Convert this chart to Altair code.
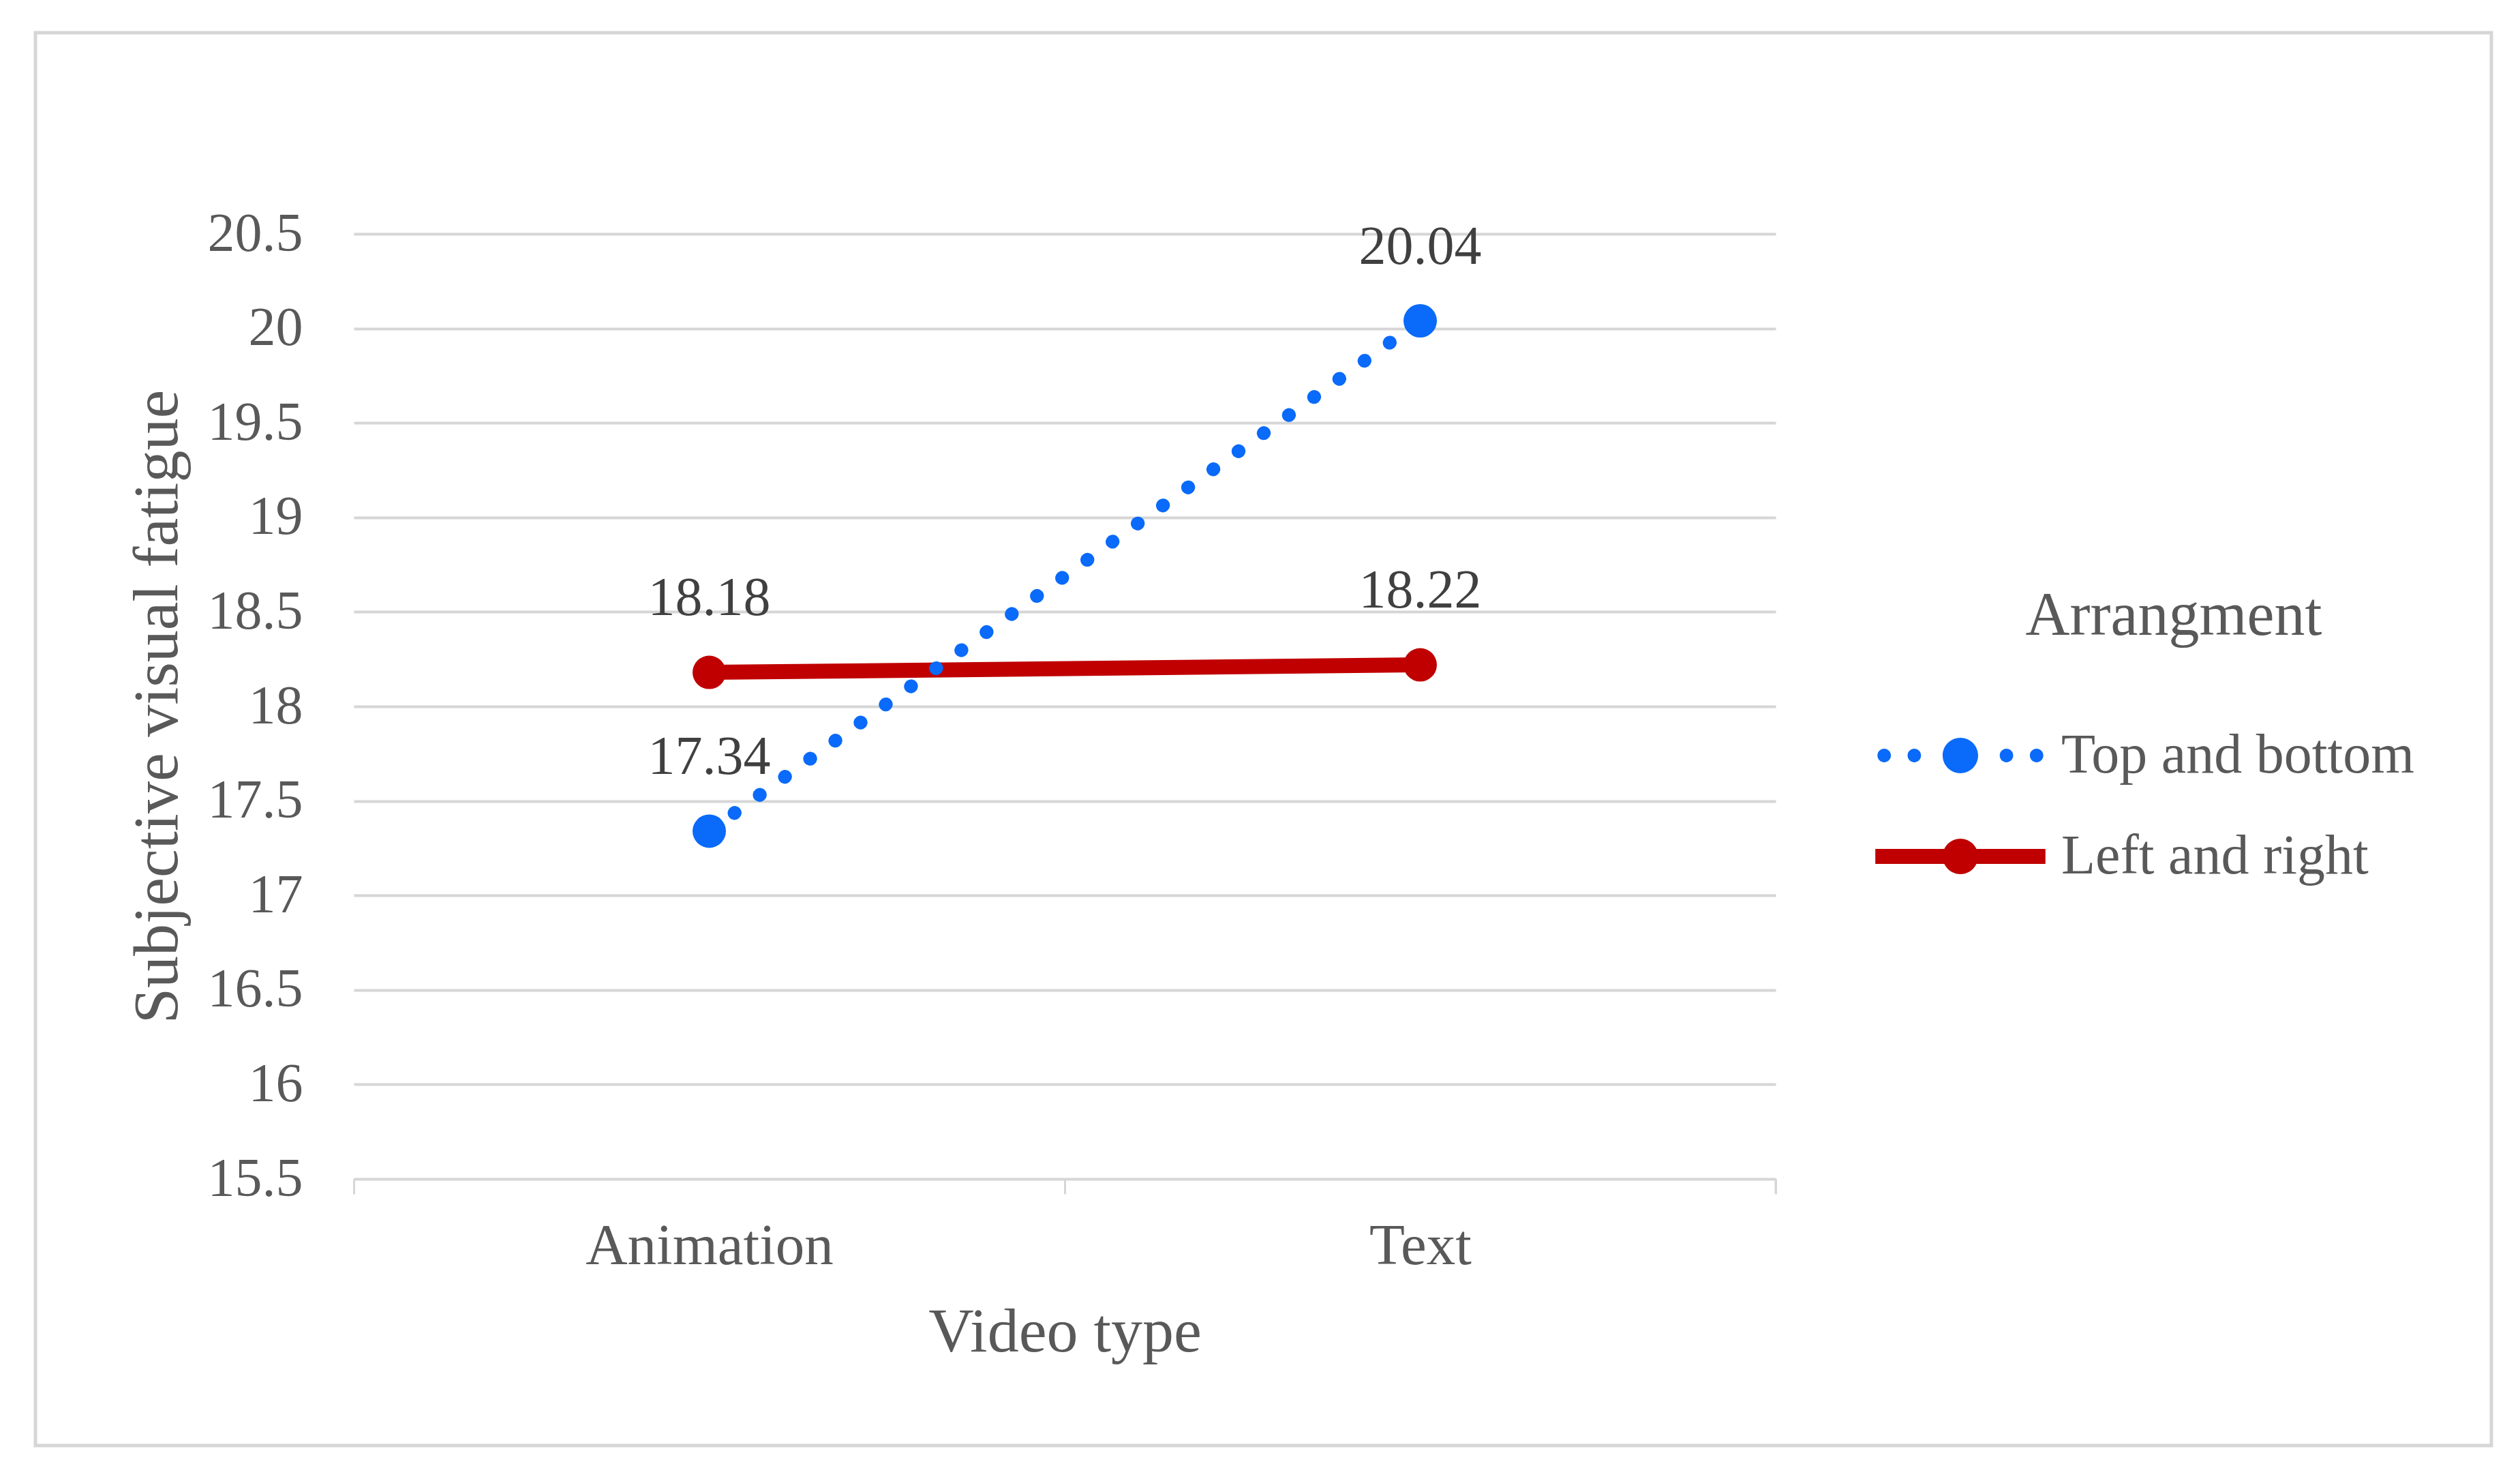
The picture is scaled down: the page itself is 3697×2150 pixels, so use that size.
import altair as alt
import pandas as pd

video_types = ["Animation", "Text"]
series_names = ["Top and bottom", "Left and right"]
top_bottom = [17.34, 20.04]
left_right = [18.18, 18.22]
y_ticks = [15.5, 16, 16.5, 17, 17.5, 18, 18.5, 19, 19.5, 20, 20.5]

rows = []
for s, vals in zip(series_names, [top_bottom, left_right]):
    for v, val in zip(video_types, vals):
        rows.append({"Video type": v, "Arrangment": s, "value": val})
df = pd.DataFrame(rows)

BLUE = "#0A6AFA"
RED = "#C00000"
FONT = "Liberation Serif"
GREY = "#595959"
GRID = "#D6D6D6"
W, H = 2086, 1386


def circ(cx, r):
    return f"M{cx - r},0A{r},{r} 0 1,1 {cx + r},0A{r},{r} 0 1,1 {cx - r},0Z"


red_shape = "M-4.8,-0.42H4.8V0.42H-4.8Z" + circ(0, 1)
blue_shape = circ(-4.3, 0.38) + circ(-2.6, 0.38) + circ(0, 1) + circ(2.6, 0.38) + circ(4.3, 0.38)

x_enc = alt.X(
    "Video type:N",
    sort=video_types,
    scale=alt.Scale(paddingInner=0, paddingOuter=0),
    axis=alt.Axis(
        title="Video type",
        tickBand="extent",
        labelAngle=0,
        labelLimit=0,
        grid=False,
        domainColor=GRID,
        domainWidth=3,
        tickColor=GRID,
        tickWidth=3,
        tickSize=22,
        labelFont=FONT,
        labelFontSize=85,
        labelColor=GREY,
        labelPadding=35,
        titleFont=FONT,
        titleFontSize=92,
        titleFontWeight="normal",
        titleColor=GREY,
        titlePadding=38,
    ),
)

y_enc = alt.Y(
    "value:Q",
    scale=alt.Scale(domain=[15.5, 20.5], nice=False, zero=False),
    axis=alt.Axis(
        title="Subjective visual fatigue",
        values=y_ticks,
        format=".1~f",
        domain=False,
        ticks=False,
        gridColor=GRID,
        gridWidth=4,
        labelFont=FONT,
        labelFontSize=80,
        labelColor=GREY,
        labelPadding=75,
        titleFont=FONT,
        titleFontSize=94,
        titleFontWeight="normal",
        titleColor=GREY,
        titlePadding=40,
        titleLimit=0,
    ),
)

legend = alt.Legend(
    title="Arrangment",
    orient="none",
    legendX=2316,
    legendY=517,
    titleFont=FONT,
    titleFontSize=90,
    titleFontWeight="normal",
    titleColor=GREY,
    titleAnchor="middle",
    titlePadding=117,
    titleLimit=0,
    labelFont=FONT,
    labelFontSize=82,
    labelColor=GREY,
    labelLimit=0,
    labelOffset=107,
    symbolSize=2704,
    symbolStrokeWidth=0,
    symbolOpacity=1,
    rowPadding=66,
)

base = alt.Chart(df)

line_tb = base.transform_filter(alt.datum.Arrangment == "Top and bottom").mark_line(
    color=BLUE, strokeWidth=20, strokeDash=[0.5, 45], strokeCap="round"
).encode(x=x_enc, y=y_enc)

line_lr = base.transform_filter(alt.datum.Arrangment == "Left and right").mark_line(
    color=RED, strokeWidth=22, strokeCap="butt"
).encode(x=x_enc, y=y_enc)

pts_tb = base.transform_filter(alt.datum.Arrangment == "Top and bottom").mark_point(
    filled=True, opacity=1, size=2400, shape="circle", color=BLUE
).encode(x=x_enc, y=y_enc)

pts_lr = base.transform_filter(alt.datum.Arrangment == "Left and right").mark_point(
    filled=True, opacity=1, size=2400, shape="circle", color=RED
).encode(x=x_enc, y=y_enc)

legend_layer = base.transform_filter("false").mark_point(
    filled=True, opacity=1, size=2704, strokeWidth=0
).encode(
    x=x_enc,
    y=y_enc,
    color=alt.Color("Arrangment:N", scale=alt.Scale(domain=series_names, range=[BLUE, RED]), legend=legend),
    shape=alt.Shape("Arrangment:N", scale=alt.Scale(domain=series_names, range=[blue_shape, red_shape]), legend=legend),
)

labels = base.mark_text(
    font=FONT, fontSize=80, color="#404040", dy=-108, baseline="middle", align="center"
).encode(x=x_enc, y=y_enc, text=alt.Text("value:Q", format=".2f"))

frame_df = pd.DataFrame({"k": [0]})
frame = alt.Chart(frame_df).mark_rect(
    fill="transparent", stroke=GRID, strokeWidth=5
).encode(
    x=alt.value(-467), x2=alt.value(3136), y=alt.value(-295), y2=alt.value(1777)
)

end_tick = alt.Chart(frame_df).mark_rule(color=GRID, strokeWidth=3).encode(
    x=alt.value(W), y=alt.value(H), y2=alt.value(H + 22)
)

chart = alt.layer(
    frame, end_tick, line_lr, line_tb, pts_tb, pts_lr, legend_layer, labels
).properties(
    width=W,
    height=H,
    background="white",
    autosize=alt.AutoSizeParams(type="none"),
    padding={"left": 511, "top": 335, "right": 1080, "bottom": 405},
).configure_view(stroke="transparent", strokeWidth=0)

chart.save("out.html", embed_options={"renderer": "svg", "actions": False})
